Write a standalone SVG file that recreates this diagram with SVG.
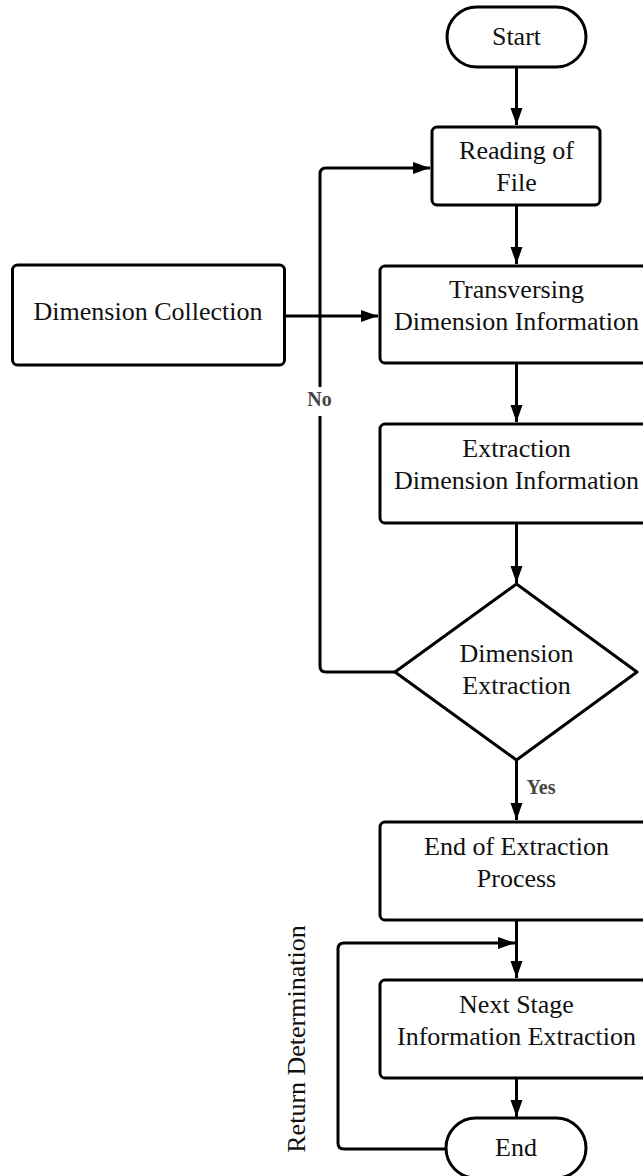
<svg xmlns="http://www.w3.org/2000/svg" width="643" height="1176" viewBox="0 0 643 1176">
<style>
.node{fill:#fff;stroke:#000;stroke-width:3}
.t{font-family:"Liberation Serif","Times New Roman",serif;font-size:26px;fill:#111;text-anchor:middle}
.lbl{font-family:"Liberation Serif","Times New Roman",serif;font-size:20px;font-weight:bold;fill:#444;text-anchor:middle}
.c{fill:none;stroke:#000;stroke-width:3;stroke-linejoin:round}
</style>
<defs>
<marker id="ah" markerUnits="userSpaceOnUse" markerWidth="18" markerHeight="14" viewBox="0 0 18 14" refX="17" refY="7" orient="auto">
<path d="M0,1 L17,7 L0,13 Z" fill="#000"/>
</marker>
</defs>
<rect width="643" height="1176" fill="#fff"/>
<g id="connectors">
<path class="c" d="M516.5,67 V125" marker-end="url(#ah)"/>
<path class="c" d="M516.5,205 V264" marker-end="url(#ah)"/>
<path class="c" d="M284,316 H378" marker-end="url(#ah)"/>
<path class="c" d="M516.5,364 V422" marker-end="url(#ah)"/>
<path class="c" d="M516.5,523 V583" marker-end="url(#ah)"/>
<path class="c" d="M395,672 H326 Q320,672 320,666 V416"/>
<path class="c" d="M320,387 V174 Q320,168 326,168 H430" marker-end="url(#ah)"/>
<path class="c" d="M516.5,760 V820" marker-end="url(#ah)"/>
<path class="c" d="M516.5,920 V978" marker-end="url(#ah)"/>
<path class="c" d="M446,1149 H344 Q338,1149 338,1143 V949 Q338,943 344,943 H515" marker-end="url(#ah)"/>
<path class="c" d="M516.5,1078 V1117" marker-end="url(#ah)"/>
<text class="lbl" x="319.5" y="406">No</text>
<text class="lbl" x="541" y="794" >Yes</text>
<text class="t" transform="translate(305,1039) rotate(-90)" x="0" y="0">Return Determination</text>
</g>
<g id="start">
<rect class="node" x="447" y="7" width="139" height="60" rx="30" ry="30"/>
<text class="t" x="516.5" y="45">Start</text>
</g>
<g id="reading">
<rect class="node" x="432" y="127" width="168" height="78" rx="5"/>
<text class="t" x="516.5" y="159">Reading of</text>
<text class="t" x="516.5" y="191">File</text>
</g>
<g id="collection">
<rect class="node" x="12.5" y="265" width="272" height="100" rx="5"/>
<text class="t" x="148" y="320">Dimension Collection</text>
</g>
<g id="transversing">
<rect class="node" x="380" y="266" width="273" height="97" rx="5"/>
<text class="t" x="516.5" y="298">Transversing</text>
<text class="t" x="516.5" y="330">Dimension Information</text>
</g>
<g id="extraction">
<rect class="node" x="380" y="424" width="273" height="99" rx="5"/>
<text class="t" x="516.5" y="457">Extraction</text>
<text class="t" x="516.5" y="489">Dimension Information</text>
</g>
<g id="decision">
<path class="node" d="M516.5,584 L637,672 L516.5,760 L395,672 Z" stroke-linejoin="round"/>
<text class="t" x="516.5" y="662">Dimension</text>
<text class="t" x="516.5" y="694">Extraction</text>
</g>
<g id="endextraction">
<rect class="node" x="380" y="822" width="273" height="98" rx="5"/>
<text class="t" x="516.5" y="855">End of Extraction</text>
<text class="t" x="516.5" y="887">Process</text>
</g>
<g id="nextstage">
<rect class="node" x="380" y="980" width="273" height="98" rx="5"/>
<text class="t" x="516.5" y="1013">Next Stage</text>
<text class="t" x="516.5" y="1045">Information Extraction</text>
</g>
<g id="end">
<rect class="node" x="446" y="1118" width="140" height="60" rx="30" ry="30"/>
<text class="t" x="516" y="1156">End</text>
</g>
</svg>
